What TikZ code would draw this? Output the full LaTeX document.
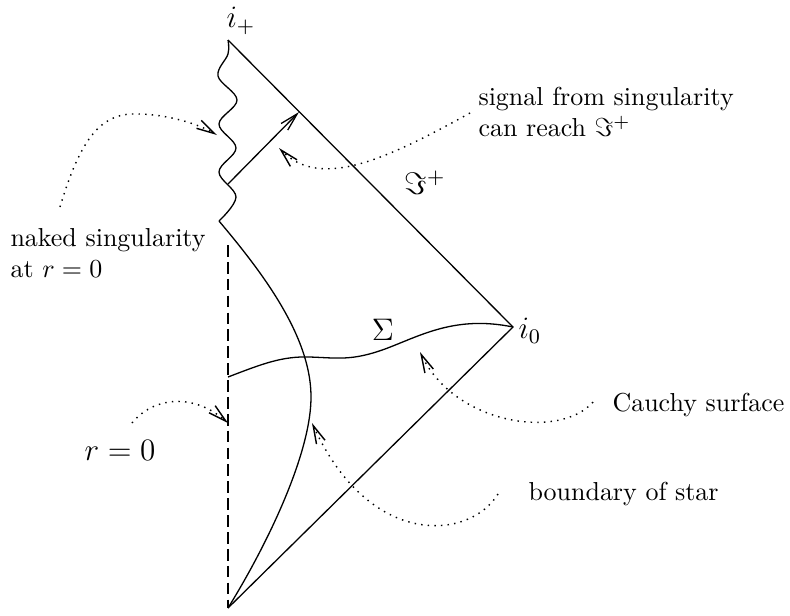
\documentclass[tikz,border=0pt]{standalone}
\usetikzlibrary{arrows.meta}
\begin{document}
\begin{tikzpicture}[x=0.385pt,y=-0.385pt,
  line/.style={line width=0.5pt},
  note/.style={dotted, line width=0.55pt, -{Straight Barb[length=7pt,width=3.6pt]}},
  lbl/.style={inner sep=0pt}]
\path[use as bounding box] (0,0) rectangle (790,615);
% vertices
\coordinate (T) at (228,40);
\coordinate (I0) at (513,327);
\coordinate (B) at (228,608);
\coordinate (W) at (219,221);
\coordinate (D) at (228,245);
\coordinate (S) at (228,184);
\coordinate (R) at (299,112);
\coordinate (SigL) at (228,377);
% boundary lines
\draw[line] (T) -- (I0) -- (B);
% singularity (wiggly)
\draw[line] plot[smooth, tension=0.6] coordinates {(228,40) (228,54) (218,76) (237,100) (219,124) (236,148) (219,172) (236,197) (219,221)};
% r=0 dashed
\draw[line, dash pattern=on 4.5pt off 2pt] (D) -- (B);
% boundary of star
\draw[line] (W) .. controls (262,272) and (310,335) .. (311,395) .. controls (312,450) and (270,540) .. (B);
% Cauchy surface
\draw[line] (SigL) .. controls (262,364) and (282,356) .. (310,357)
  .. controls (338,358) and (352,361) .. (385,349)
  .. controls (420,336) and (455,315) .. (I0);
% signal
\draw[line, -{Straight Barb[length=7pt,width=3.6pt]}] (S) -- (R);
% labels
\node[lbl] (ip) at (241,21) {\large $i_+$};
\node[lbl, anchor=west] (io) at (518,331) {\large $i_0$};
\node[lbl] (scri) at (425,183) {\large $\Im^+$};
\node[lbl] (sig) at (383,330) {\large $\Sigma$};
\node[lbl, anchor=west, align=left] (tsig) at (478,112) {signal from singularity\\can reach $\Im^+$};
\node[lbl, anchor=west, align=left] (tnak) at (10,253) {naked singularity\\at $r=0$};
\node[lbl] (tr) at (120,450) {\large $r=0$};
\node[lbl, anchor=west] (tc) at (612,405) {Cauchy surface};
\node[lbl, anchor=west] (tb) at (528,494) {boundary of star};
% note connector endpoints
\coordinate (a1) at (470,113);
\coordinate (a1t) at (279,148);
\coordinate (a2) at (60,207);
\coordinate (a2m) at (132,114);
\coordinate (a2t) at (217,135);
\coordinate (a3) at (132,423);
\coordinate (a3t) at (228,423);
\coordinate (a4) at (593,402);
\coordinate (a4t) at (420,352);
\coordinate (a5) at (498,494);
\coordinate (a5t) at (312,423);
\draw[note] (a1) .. controls (385,160) and (320,190) .. (a1t);
\draw[note] (a2) .. controls (80,140) and (100,115) .. (a2m) .. controls (160,113) and (195,122) .. (a2t);
\draw[note] (a3) .. controls (150,400) and (190,390) .. (a3t);
\draw[note] (a4) .. controls (560,440) and (455,425) .. (a4t);
\draw[note] (a5) .. controls (470,540) and (370,550) .. (a5t);
\end{tikzpicture}
\end{document}
